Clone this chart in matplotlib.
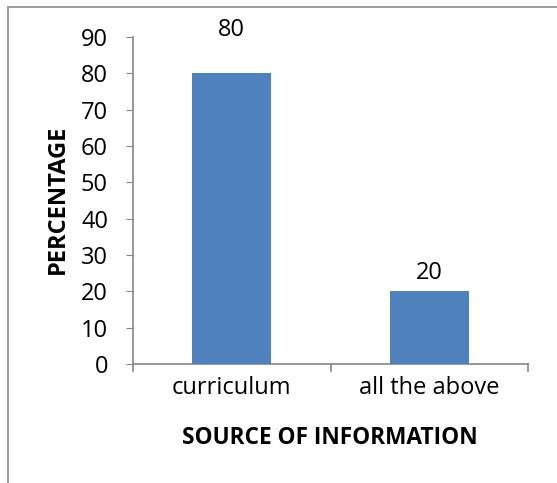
import matplotlib
matplotlib.use("Agg")
import matplotlib.pyplot as plt
from matplotlib.patches import Rectangle

categories = ["curriculum", "all the above"]
values = [80, 20]
yticks = [0, 10, 20, 30, 40, 50, 60, 70, 80, 90]
label_offsets = [43, 18]  # px above bar top (style)

plt.rcParams['font.family'] = ['Open Sans', 'DejaVu Sans']
FS = 17

W, H = 557, 483
fig = plt.figure(figsize=(W/100, H/100), dpi=100)
ax = fig.add_axes([133/W, 1-364/H, (528-133)/W, (364-37)/H])

x = list(range(len(categories)))
bars = ax.bar(x, values, width=0.4, color="#4F81BD", zorder=3)
ax.set_xlim(-0.5, len(categories)-0.5)
ax.set_ylim(0, 90)
ax.set_yticks(yticks)
ax.set_yticklabels([str(t) for t in yticks], fontsize=FS)
ax.set_xticks(x)
ax.set_xticklabels(categories, fontsize=FS)
ax.tick_params(axis='x', length=0, pad=9)
ax.tick_params(axis='y', length=5, color="#868686", pad=13)
for b in [-0.5, 0.5, 1.5]:
    ax.plot([b, b], [0, -0.022], transform=ax.get_xaxis_transform(), color="#868686", lw=1.2, clip_on=False)

for s in ['top', 'right']:
    ax.spines[s].set_visible(False)
for s in ['left', 'bottom']:
    ax.spines[s].set_color("#868686")
    ax.spines[s].set_linewidth(1.2)

for xi, v, off in zip(x, values, label_offsets):
    ax.annotate(str(v), (xi, v), xytext=(0, off*0.72), textcoords='offset points',
                ha='center', va='center', fontsize=FS, annotation_clip=False)

ax.set_ylabel("PERCENTAGE", fontsize=FS, fontweight='bold')
ax.yaxis.set_label_coords(58/W, 1-199/H, transform=fig.transFigure)
ax.set_xlabel("SOURCE OF INFORMATION", fontsize=16.3, fontweight='bold')
ax.xaxis.set_label_coords(330/W, 1-438/H, transform=fig.transFigure)
ax.xaxis.label.set_va('center')
ax.yaxis.label.set_va('center')

fig.patches.append(Rectangle((8/W, -0.1), 1.2, 1 - 7/H + 0.1, transform=fig.transFigure,
                             fill=False, edgecolor="#8c8c8c", lw=1.2))

fig.savefig("out.png", dpi=100)
